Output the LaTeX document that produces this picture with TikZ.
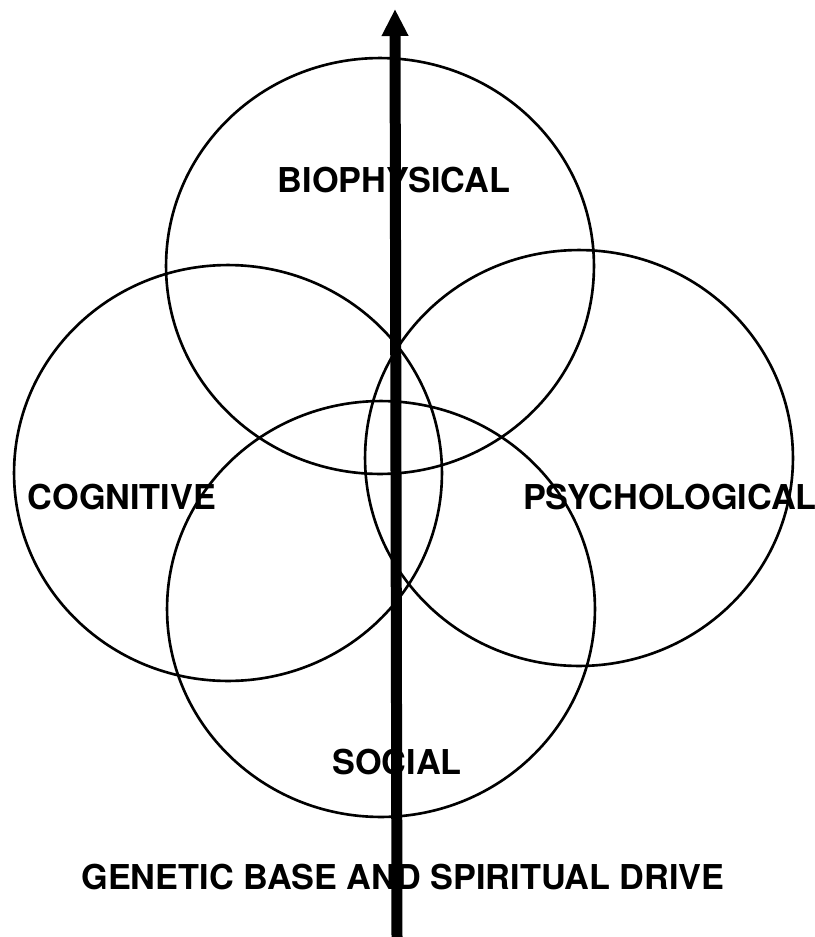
\documentclass[tikz,border=0pt]{standalone}
\usepackage{fontspec}
\setsansfont{TeX Gyre Heros}
\usetikzlibrary{shapes.geometric,arrows.meta,positioning}

\begin{document}
\begin{tikzpicture}[
    x=0.02cm, y=-0.02cm,
    font=\sffamily\bfseries\fontsize{19.5}{23}\selectfont,
    sphere/.style={draw=black, ellipse, line width=1.5pt, inner sep=0pt, minimum width=8.56cm, minimum height=8.32cm},
    tag/.style={inner sep=0pt, text=black},
    growth/.style={-{Triangle[width=0.5cm, length=0.54cm]}, line width=0.22cm, draw=black}
]
    \useasboundingbox (0,0) rectangle (815,937);

    % Libellés
    \node[tag] (l_bio) at (394,180) {BIOPHYSICAL};
    \node[tag] (l_cog) at (122,497) {COGNITIVE};
    \node[tag] (l_psy) at (670,497) {PSYCHOLOGICAL};
    \node[tag] (l_soc) at (397,762) {SOCIAL};
    \node[tag] (l_base) at (403,877) {GENETIC BASE AND SPIRITUAL DRIVE};

    % Quatre domaines qui se recouvrent
    \node[sphere] (bio) at (380,266) {};
    \node[sphere] (cog) at (228,473) {};
    \node[sphere] (psy) at (579,458) {};
    \node[sphere] (soc) at (381,609) {};

    % Axe vertical
    \coordinate (a_foot) at (397,937);
    \coordinate (a_tip) at (395,9);
    \draw[growth] (a_foot) -- (a_tip);

\end{tikzpicture}
\end{document}
